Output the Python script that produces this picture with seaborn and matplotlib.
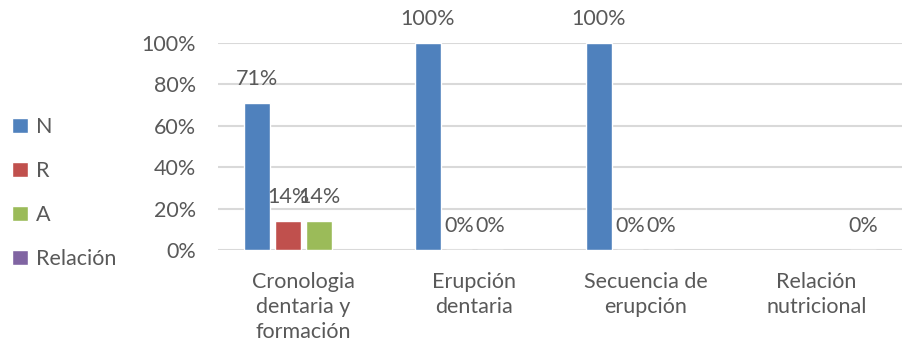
import numpy as np
import pandas as pd
import matplotlib
matplotlib.use("Agg")
import matplotlib.pyplot as plt
import seaborn as sns

categories = ["Cronologia\ndentaria y\nformación", "Erupción\ndentaria",
              "Secuencia de\nerupción", "Relación\nnutricional"]
series = ["N", "R", "A", "Relación"]
values_n = [0.71, 1.00, 1.00, np.nan]
values_r = [0.14, 0.00, 0.00, np.nan]
values_a = [0.14, 0.00, 0.00, np.nan]
values_rel = [np.nan, np.nan, np.nan, 0.00]
colors = ["#4F81BD", "#C0504D", "#9BBB59", "#8064A2"]
yticks = [0, 0.2, 0.4, 0.6, 0.8, 1.0]

rows = []
for name, vals in zip(series, [values_n, values_r, values_a, values_rel]):
    for cat, v in zip(categories, vals):
        rows.append({"categoria": cat, "serie": name, "valor": v})
df = pd.DataFrame(rows)

sns.set_theme(style="white")
plt.rcParams["font.family"] = ["Lato", "DejaVu Sans"]
text_color = "#595959"
fs = 15.5

fig = plt.figure(figsize=(9.02, 3.54), dpi=100)
ax = fig.add_axes([218 / 902, 1 - 250 / 354, 684 / 902, 207 / 354])

sns.barplot(data=df, x="categoria", y="valor", hue="serie", order=categories,
            hue_order=series, palette=colors, width=0.725, gap=0.19,
            errorbar=None, ax=ax, legend=True, saturation=1)

for cont in ax.containers:
    ax.bar_label(cont, fmt="{:.0%}", padding=10, fontsize=fs, color=text_color)

ax.set_ylim(0, 1.0)
ax.set_xlim(-0.5, 3.5)
ax.set_yticks(yticks)
ax.set_yticklabels([f"{int(t*100)}%" for t in yticks])
ax.yaxis.grid(True, color="#D9D9D9", linewidth=1.5)
ax.set_axisbelow(True)
for s in ax.spines.values():
    s.set_visible(False)
ax.set_xlabel("")
ax.set_ylabel("")
ax.tick_params(axis="y", length=0, pad=16, labelsize=fs, labelcolor=text_color)
ax.tick_params(axis="x", length=0, pad=16, labelsize=fs, labelcolor=text_color)
for lab in ax.get_xticklabels():
    lab.set_linespacing(1.3)
    lab.set_verticalalignment("top")

handles, labels = ax.get_legend_handles_labels()
ax.get_legend().remove()
fig.legend(handles, labels, loc="center left", bbox_to_anchor=(-0.008, 1 - 193 / 354),
           frameon=False, fontsize=fs, labelcolor=text_color,
           handlelength=0.72, handleheight=0.72, handletextpad=0.4,
           labelspacing=1.12)

fig.savefig("out.png", dpi=100)
